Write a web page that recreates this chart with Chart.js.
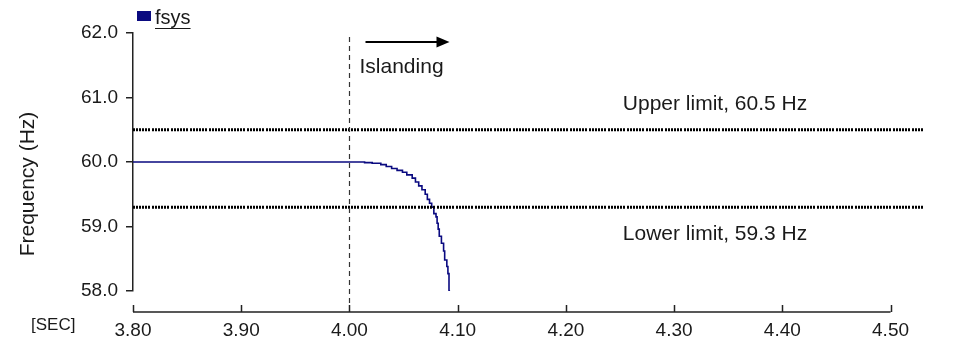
<!DOCTYPE html>
<html>
<head>
<meta charset="utf-8">
<script src="https://cdn.jsdelivr.net/npm/chart.js@4.4.1/dist/chart.umd.min.js"></script>
<style>
    body { margin: 0; background: #fff; }
</style>
</head>
<body>
<canvas id="freq-chart" width="955" height="344"></canvas>
<script>
// system frequency after the breaker opens (sec / Hz)
var tiempos = [3.800, 4.000, 4.014, 4.021, 4.029, 4.034, 4.039, 4.044, 4.049, 4.053,
               4.058, 4.061, 4.064, 4.067, 4.070, 4.072, 4.074, 4.076, 4.078, 4.080,
               4.081, 4.082, 4.083, 4.085, 4.087, 4.088, 4.090, 4.091, 4.092, 4.093];
var fsys = [60.00, 60.00, 60.00, 59.99, 59.98, 59.96, 59.93, 59.90, 59.87, 59.84,
            59.80, 59.75, 59.69, 59.63, 59.57, 59.50, 59.42, 59.36, 59.30, 59.20,
            59.15, 59.05, 58.96, 58.85, 58.74, 58.62, 58.48, 58.38, 58.27, 58.00];

var limiteTiempos = [3.80, 4.53];
var limiteSuperior = 60.5;
var limiteInferior = 59.3;
var tiempoIsla = 4.00;

var xTicks = [3.80, 3.90, 4.00, 4.10, 4.20, 4.30, 4.40, 4.50];
var yTicks = [58.0, 59.0, 60.0, 61.0, 62.0];

var fuente = 'Liberation Sans, Arial, sans-serif';
var colorTexto = '#1a1a1a';
var colorSerie = '#0a0a80';

function puntos(xs, ys) {
    var out = [];
    for (var i in xs) {
        out.push({ x: xs[i], y: ys[i] });
    }
    return out;
}

var extras = {
    id: 'extras',
    afterDraw: function (chart) {
        var ctx = chart.ctx;
        var area = chart.chartArea;
        var sx = chart.scales.x;
        var sy = chart.scales.y;
        var ejeY = area.bottom + 21;

        ctx.save();

        // time axis sits a bit below the plot
        ctx.strokeStyle = '#222';
        ctx.lineWidth = 1.5;
        ctx.beginPath();
        ctx.moveTo(sx.getPixelForValue(xTicks[0]), ejeY);
        ctx.lineTo(sx.getPixelForValue(xTicks[xTicks.length - 1]), ejeY);
        for (var i in xTicks) {
            var px = Math.round(sx.getPixelForValue(xTicks[i])) + 0.5;
            ctx.moveTo(px, ejeY);
            ctx.lineTo(px, ejeY - 7);
        }
        ctx.stroke();

        ctx.font = '17px ' + fuente;
        ctx.fillStyle = colorTexto;
        ctx.textAlign = 'left';
        ctx.textBaseline = 'middle';
        ctx.fillText('[SEC]', 31, ejeY + 13);

        // islanding instant
        var xi = Math.round(sx.getPixelForValue(tiempoIsla)) + 0.5;
        ctx.strokeStyle = '#333';
        ctx.lineWidth = 1.2;
        ctx.setLineDash([5, 4]);
        ctx.beginPath();
        ctx.moveTo(xi, area.top + 4);
        ctx.lineTo(xi, ejeY - 7);
        ctx.stroke();
        ctx.setLineDash([]);

        var ya = area.top + 9;
        ctx.strokeStyle = '#000';
        ctx.lineWidth = 2;
        ctx.beginPath();
        ctx.moveTo(xi + 16, ya);
        ctx.lineTo(xi + 90, ya);
        ctx.stroke();
        ctx.fillStyle = '#000';
        ctx.beginPath();
        ctx.moveTo(xi + 100, ya);
        ctx.lineTo(xi + 87, ya - 5.5);
        ctx.lineTo(xi + 87, ya + 5.5);
        ctx.closePath();
        ctx.fill();

        ctx.font = '21px ' + fuente;
        ctx.fillStyle = colorTexto;
        ctx.textAlign = 'left';
        ctx.textBaseline = 'alphabetic';
        ctx.fillText('Islanding', xi + 10, area.top + 40);

        // limit labels
        var xc = (area.left + area.right) / 2 + 187;
        ctx.textAlign = 'center';
        ctx.fillText('Upper limit, ' + limiteSuperior.toFixed(1) + ' Hz', xc, sy.getPixelForValue(limiteSuperior) - 20);
        ctx.fillText('Lower limit, ' + limiteInferior.toFixed(1) + ' Hz', xc, sy.getPixelForValue(limiteInferior) + 33);

        // y title
        ctx.save();
        ctx.translate(28, area.top + 151);
        ctx.rotate(-Math.PI / 2);
        ctx.textBaseline = 'middle';
        ctx.fillText('Frequency (Hz)', 0, 0);
        ctx.restore();

        // legend
        var ds = chart.data.datasets[2];
        ctx.fillStyle = ds.borderColor;
        ctx.fillRect(area.left + 4, 11, 14, 10);
        ctx.font = '20px ' + fuente;
        ctx.fillStyle = colorTexto;
        ctx.textAlign = 'left';
        ctx.textBaseline = 'alphabetic';
        var xl = area.left + 22;
        ctx.fillText(ds.label, xl, 24);
        var w = ctx.measureText(ds.label).width;
        ctx.strokeStyle = colorTexto;
        ctx.lineWidth = 1.2;
        ctx.beginPath();
        ctx.moveTo(xl, 28.5);
        ctx.lineTo(xl + w, 28.5);
        ctx.stroke();

        ctx.restore();
    }
};

var punteado = [2, 1, 2, 1, 2, 1, 2, 1, 2, 1, 2, 2];

new Chart(document.getElementById('freq-chart'), {
    type: 'line',
    data: {
        datasets: [{
            label: 'Upper limit',
            data: puntos(limiteTiempos, [limiteSuperior, limiteSuperior]),
            borderColor: '#000',
            borderWidth: 3,
            borderDash: punteado,
            pointRadius: 0
        }, {
            label: 'Lower limit',
            data: puntos(limiteTiempos, [limiteInferior, limiteInferior]),
            borderColor: '#000',
            borderWidth: 3,
            borderDash: punteado,
            pointRadius: 0
        }, {
            label: 'fsys',
            data: puntos(tiempos, fsys),
            borderColor: colorSerie,
            borderWidth: 1.6,
            stepped: 'after',
            pointRadius: 0
        }]
    },
    options: {
        responsive: false,
        animation: false,
        layout: {
            padding: { left: 0, right: 32, top: 33, bottom: 0 }
        },
        plugins: {
            legend: { display: false },
            tooltip: { enabled: false }
        },
        scales: {
            x: {
                type: 'linear',
                min: 3.80,
                max: 4.53,
                afterBuildTicks: function (scale) {
                    scale.ticks = xTicks.map(function (v) { return { value: v }; });
                },
                afterFit: function (scale) { scale.height = 53; },
                grid: { display: false, drawTicks: false },
                border: { display: false },
                ticks: {
                    padding: 28,
                    maxRotation: 0,
                    color: colorTexto,
                    font: { family: fuente, size: 19 },
                    callback: function (v) { return Number(v).toFixed(2); }
                }
            },
            y: {
                min: 58,
                max: 62,
                afterBuildTicks: function (scale) {
                    scale.ticks = yTicks.map(function (v) { return { value: v }; });
                },
                afterFit: function (scale) { scale.width = 133; },
                grid: { drawOnChartArea: false, tickLength: 7, color: '#222', lineWidth: 1.5 },
                border: { color: '#222', width: 1.5 },
                ticks: {
                    padding: 8,
                    color: colorTexto,
                    font: { family: fuente, size: 19 },
                    callback: function (v) { return Number(v).toFixed(1); }
                }
            }
        }
    },
    plugins: [extras]
});
</script>
</body>
</html>
